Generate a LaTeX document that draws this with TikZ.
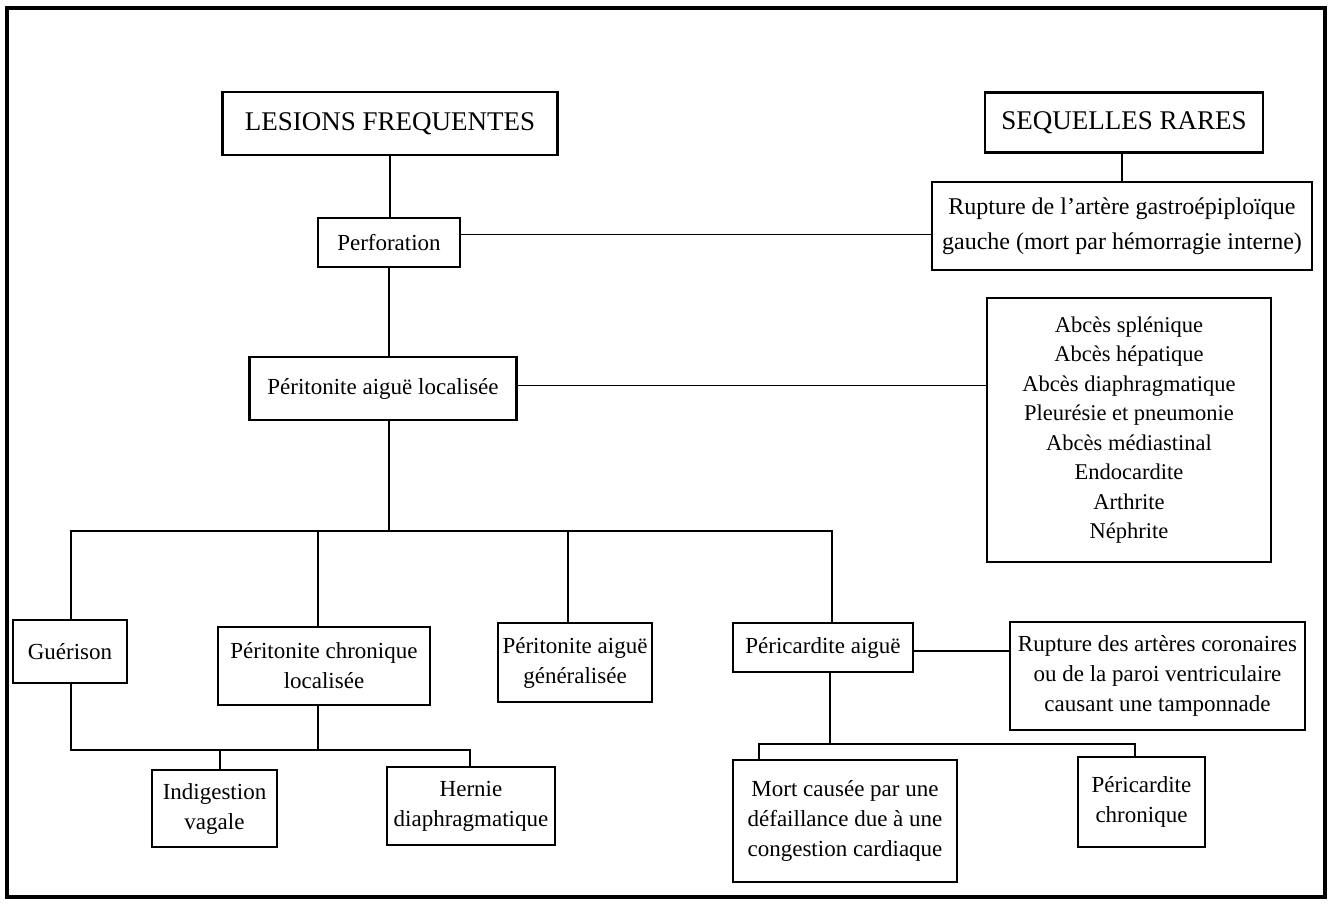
\documentclass[tikz,border=0pt]{standalone}
\usepackage{fontspec}
\setmainfont{Liberation Serif}
\begin{document}
\begin{tikzpicture}[x=1pt,y=-1pt]
\tikzset{
  box/.style={draw=black, line width=2.8pt, align=center, inner sep=0pt,
    font=\fontsize{23}{30}\selectfont},
  big/.style={font=\fontsize{27}{32}\selectfont},
  conn/.style={line width=1.6pt},
  frame/.style={line width=4.5pt}
}
\useasboundingbox (0,0) rectangle (1331,903);
\draw[frame] (7,8) rectangle (1325,897);

% top level
\node[box, big, minimum width=335, minimum height=63] (les) at (390,123.5) {LESIONS FREQUENTES};
\node[box, big, minimum width=278, minimum height=60] (seq) at (1124,122.5) {SEQUELLES RARES};
\node[box, font=\fontsize{24}{35}\selectfont, minimum width=380, minimum height=88] (rupt) at (1122,226) {Rupture de l'artère gastroépiploïque\\gauche (mort par hémorragie interne)};
\node[box, minimum width=142, minimum height=49] (perf) at (389,242.5) {Perforation};
\node[box, minimum width=267, minimum height=63] (pal) at (383,388.5) {Péritonite aiguë localisée};
\node[box, font=\fontsize{22.5}{29.5}\selectfont, minimum width=284, minimum height=264] (abc) at (1129,430)
  {Abcès splénique\\Abcès hépatique\\Abcès diaphragmatique\\Pleurésie et pneumonie\\Abcès médiastinal\\Endocardite\\Arthrite\\Néphrite};

% second level
\node[box, minimum width=114, minimum height=63] (gue) at (70,651.5) {Guérison};
\node[box, minimum width=212, minimum height=78] (pcl) at (324,666) {Péritonite chronique\\localisée};
\node[box, minimum width=154, minimum height=79] (pag) at (575,662.5) {Péritonite aiguë\\généralisée};
\node[box, minimum width=180, minimum height=49] (pca) at (823,647.5) {Péricardite aiguë};
\node[box, minimum width=295, minimum height=108] (rcor) at (1157.5,676) {Rupture des artères coronaires\\ou de la paroi ventriculaire\\causant une tamponnade};

% third level
\node[box, minimum width=125, minimum height=77] (ind) at (214.5,808.5) {Indigestion\\vagale};
\node[box, minimum width=168, minimum height=78] (her) at (471,806) {Hernie\\diaphragmatique};
\node[box, minimum width=224, minimum height=122] (mort) at (845,821) {Mort causée par une\\défaillance due à une\\congestion cardiaque};
\node[box, minimum width=127, minimum height=90] (pch) at (1141.5,802) {Péricardite\\chronique};

% connectors, top part
\draw[conn] (les.south) -- (les.south |- perf.north);
\draw[conn] (perf.south) -- (perf.south |- pal.north);
\draw[conn] ([yshift=8pt]perf.east) -- ([yshift=8pt]perf.east -| rupt.west);
\draw[conn] (rupt.north |- seq.south) -- (rupt.north);
\draw[conn] ([yshift=3pt]pal.east) -- ([yshift=3pt]pal.east -| abc.west);

% main bus
\coordinate (bL) at (71,531);
\coordinate (bM) at (389,531);
\coordinate (b2) at (318,531);
\coordinate (b3) at (568,531);
\coordinate (bR) at (832,531);
\draw[conn] (bM |- pal.south) -- (bM);
\draw[conn] (bL |- gue.north) -- (bL) -- (bR) -- (bR |- pca.north);
\draw[conn] (b2) -- (b2 |- pcl.north);
\draw[conn] (b3) -- (b3 |- pag.north);

% pericardite links
\draw[conn] ([yshift=-3.5pt]pca.east) -- ([yshift=-3.5pt]pca.east -| rcor.west);

% lower left bus
\coordinate (c1) at (71,750);
\coordinate (c3) at (318,750);
\coordinate (c4) at (220,750);
\coordinate (c2) at (470,750);
\draw[conn] (c1 |- gue.south) -- (c1) -- (c2) -- (c2 |- her.north);
\draw[conn] (c3 |- pcl.south) -- (c3);
\draw[conn] (c4) -- (c4 |- ind.north);

% lower right bus
\coordinate (e1) at (759,744);
\coordinate (e3) at (830,744);
\coordinate (e2) at (1135,744);
\draw[conn] (e3 |- pca.south) -- (e3);
\draw[conn] (e1 |- mort.north) -- (e1) -- (e2) -- (e2 |- pch.north);
\end{tikzpicture}
\end{document}
